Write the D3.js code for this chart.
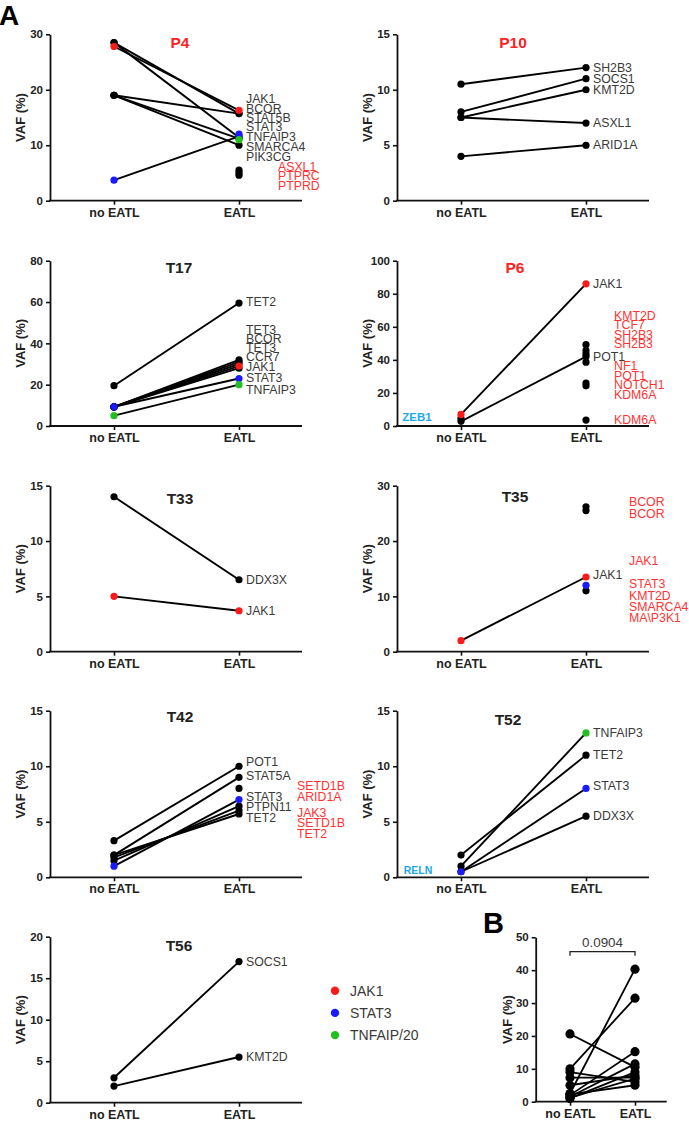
<!DOCTYPE html>
<html><head><meta charset="utf-8">
<script src="https://cdn.jsdelivr.net/npm/d3@7"></script>
<style>body{margin:0;background:#fff}svg{display:block}</style>
</head><body>
<svg id="c" width="689" height="1122"></svg>
<script>
// ---------------- DATA ----------------
const categories = ["no EATL", "EATL"];
const legendKeys = ["J", "S", "T"];
const legendNames = ["JAK1", "STAT3", "TNFAIP/20"];
// pairs: [VAF no EATL, VAF EATL, class no EATL, class EATL]; J=JAK1, S=STAT3, T=TNFAIP3, o=other
const P4_ticks = [0, 10, 20, 30];
const P4_pairs = [[28.5,15.7,"o","o"],[28.5,11.4,"o","o"],[19,15.7,"o","o"],[19,11.2,"o","o"],[19,10,"o","o"],[27.8,16.3,"J","J"],[3.7,11.6,"S","S"]];
const P4_singles = [[5.5,"o"],[5,"o"],[4.6,"o"],[12,"S"],[11,"T"]];
const P4_genes = ["JAK1","BCOR","STAT5B","STAT3","TNFAIP3","SMARCA4","PIK3CG"];
const P4_geneY = [18.3,16.5,14.9,13.2,11.5,9.7,7.9];
const P4_red = ["ASXL1","PTPRC","PTPRD"];
const P4_redY = [6.1,4.4,2.7];

const P10_ticks = [0, 5, 10, 15];
const P10_pairs = [[10.5,12,"o","o"],[8,11,"o","o"],[7.5,10,"o","o"],[7.5,7,"o","o"],[4,5,"o","o"]];
const P10_genes = ["SH2B3","SOCS1","KMT2D","ASXL1","ARID1A"];
const P10_geneY = [12,11,10,7,5];

const T17_ticks = [0, 20, 40, 60, 80];
const T17_pairs = [[19.5,59.5,"o","o"],[9.3,32,"o","o"],[9.3,31,"o","o"],[9.3,30,"o","o"],[9.3,28,"o","o"],[9.3,29,"o","J"],[9.3,23,"S","S"],[5,20,"T","T"]];
const T17_genes = ["TET2","TET3","BCOR","TET3","CCR7","JAK1","STAT3","TNFAIP3"];
const T17_geneY = [59.8,46.5,42.1,37.6,33.2,28.7,23.2,17.3];

const P6_ticks = [0, 20, 40, 60, 80, 100];
const P6_pairs = [[2.8,42,"o","o"],[7,86,"J","J"]];
const P6_singles = [[49.2,"o"],[45.6,"o"],[43.6,"o"],[38.6,"o"],[26,"o"],[24.3,"o"],[3.6,"o"]];
const P6_singlesNo = [[4.6,"o"]];
const P6_genes = ["JAK1","POT1"];
const P6_geneY = [86,42];
const P6_red = ["KMT2D","TCF7","SH2B3","SH2B3","NF1","POT1","NOTCH1","KDM6A","KDM6A"];
const P6_redY = [66.6,61,55.2,49.6,36.2,30.4,24.8,18.8,3.6];
const P6_blue = ["ZEB1"];
const P6_blueY = [5.6];

const T33_ticks = [0, 5, 10, 15];
const T33_pairs = [[14,6.5,"o","o"],[5,3.7,"J","J"]];
const T33_genes = ["DDX3X","JAK1"];
const T33_geneY = [6.5,3.7];

const T35_ticks = [0, 10, 20, 30];
const T35_pairs = [[2,13.5,"J","J"]];
const T35_singles = [[26.2,"o"],[25.5,"o"],[11,"o"],[12,"S"]];
const T35_genes = ["JAK1"];
const T35_geneY = [13.9];
const T35_red = ["BCOR","BCOR","JAK1","STAT3","KMT2D","SMARCA4","MA\\P3K1"];
const T35_redY = [27.1,24.8,16.4,12.2,10.1,8.1,6.1];

const T42_ticks = [0, 5, 10, 15];
const T42_pairs = [[3.3,10,"o","o"],[2,9,"o","o"],[2,5.7,"o","o"],[1.8,6.0,"o","o"],[1.5,6.4,"o","o"],[1,7,"S","S"]];
const T42_singles = [[8,"o"]];
const T42_genes = ["POT1","STAT5A","STAT3","PTPN11","TET2"];
const T42_geneY = [10.4,9.1,7.2,6.3,5.3];
const T42_red = ["SETD1B","ARID1A","JAK3","SETD1B","TET2"];
const T42_redY = [8.2,7.2,5.8,4.9,3.9];

const T52_ticks = [0, 5, 10, 15];
const T52_pairs = [[2,11,"o","o"],[1,13,"o","T"],[0.5,5.5,"o","o"],[0.5,8,"S","S"]];
const T52_genes = ["TNFAIP3","TET2","STAT3","DDX3X"];
const T52_geneY = [13,11,8.2,5.5];
const T52_blue = ["RELN"];
const T52_blueY = [0.66];

const T56_ticks = [0, 5, 10, 15, 20];
const T56_pairs = [[3,17,"o","o"],[2,5.5,"o","o"]];
const T56_genes = ["SOCS1","KMT2D"];
const T56_geneY = [17,5.5];

const B_ticks = [0, 10, 20, 30, 40, 50];
const B_noEATL = [20.6, 10, 2.5, 9, 7.3, 5, 2, 1.5, 1, 1.2, 2.2];
const B_EATL   = [10.5, 31.5, 40.3, 6, 7.3, 8, 15.2, 11.5, 9, 7, 5];
const B_pValue = "0.0904";

// ---------------- STYLE / LAYOUT ----------------
const COLORS = {J:"#ff1a1a", S:"#1a1aff", T:"#20c020", o:"#000000"};
const GRAY = "#3a3a3a", RED = "#ff3333", BLUE = "#1ba9e8";
const FONT = "'Liberation Sans', Arial, Helvetica, sans-serif";
const svg = d3.select("#c");

const LEFT = 50, RIGHT = 397;
const ROWS = [[34.3,200.7],[260.7,426],[485.7,651.7],[710.7,877.3],[936.7,1102.7]];

function panel(c) {
  const g = svg.append("g");
  const y = d3.scaleLinear().domain([0, c.max]).range([c.bottom, c.top]);
  const x = d3.scalePoint().domain(categories).range([c.axisX + (c.c1 ?? 64), c.axisX + (c.c2 ?? 189)]);
  const xlen = c.xlen ?? 252;
  const r = c.r ?? 3.6;

  // y axis
  const ya = g.append("g").attr("transform", `translate(${c.axisX},0)`)
    .call(d3.axisLeft(y).tickValues(c.ticks).tickSize(4).tickSizeOuter(0).tickPadding(3));
  ya.select(".domain").attr("stroke", "#111").attr("stroke-width", 1.8);
  ya.selectAll(".tick line").attr("stroke", "#111").attr("stroke-width", 1.6);
  ya.selectAll(".tick text").attr("font-family", FONT).attr("font-weight", "bold")
    .attr("font-size", 11.5).attr("fill", "#222");

  // x axis
  g.append("line").attr("x1", c.axisX - 0.9).attr("x2", c.axisX + xlen)
    .attr("y1", c.bottom).attr("y2", c.bottom).attr("stroke", "#111").attr("stroke-width", 1.8);
  const xa = g.append("g").attr("transform", `translate(0,${c.bottom})`)
    .call(d3.axisBottom(x).tickSize(4).tickSizeOuter(0).tickPadding(3));
  xa.select(".domain").remove();
  xa.selectAll(".tick line").attr("stroke", "#111").attr("stroke-width", 1.6);
  xa.selectAll(".tick text").attr("font-family", FONT).attr("font-weight", "bold")
    .attr("font-size", 12.5).attr("fill", "#222");

  // y title
  g.append("text").attr("transform", `translate(${c.axisX - (c.ytDx ?? 30)},${(c.top + c.bottom) / 2}) rotate(-90)`)
    .attr("text-anchor", "middle").attr("dominant-baseline", "central")
    .attr("font-family", FONT).attr("font-weight", "bold").attr("font-size", 13).attr("fill", "#222")
    .text("VAF (%)");

  // title
  if (c.title) {
    g.append("text").attr("x", c.axisX + c.titleDx).attr("y", c.top + c.titleDy)
      .attr("text-anchor", "middle").attr("dominant-baseline", "central")
      .attr("font-family", FONT).attr("font-weight", "bold").attr("font-size", 15.5)
      .attr("fill", c.titleColor).text(c.title);
  }

  // lines
  g.append("g").selectAll("line").data(c.pairs).join("line")
    .attr("x1", x(categories[0])).attr("x2", x(categories[1]))
    .attr("y1", d => y(d[0])).attr("y2", d => y(d[1]))
    .attr("stroke", "#000").attr("stroke-width", c.lw ?? 1.9);

  // dots
  const dots = [];
  c.pairs.forEach(d => { dots.push([0, d[0], d[2]]); dots.push([1, d[1], d[3]]); });
  (c.singles || []).forEach(d => dots.push([1, d[0], d[1]]));
  (c.singlesNo || []).forEach(d => dots.push([0, d[0], d[1]]));
  dots.sort((a, b) => (a[2] === "o" ? 0 : 1) - (b[2] === "o" ? 0 : 1));
  g.append("g").selectAll("circle").data(dots).join("circle")
    .attr("cx", d => x(categories[d[0]])).attr("cy", d => y(d[1]))
    .attr("r", r).attr("fill", d => COLORS[d[2]]);

  // gene labels
  const lx = x(categories[1]) + 7;
  (c.genes || []).forEach((t, i) => {
    g.append("text").attr("x", lx).attr("y", y(c.geneY[i])).attr("dominant-baseline", "central")
      .attr("font-family", FONT).attr("font-size", 12.3).attr("fill", GRAY).text(t);
  });
  (c.red || []).forEach((t, i) => {
    g.append("text").attr("x", c.axisX + c.redDx).attr("y", y(c.redY[i])).attr("dominant-baseline", "central")
      .attr("font-family", FONT).attr("font-size", 12.3).attr("fill", RED).text(t);
  });
  (c.blue || []).forEach((t, i) => {
    g.append("text").attr("x", c.axisX + c.blueDx).attr("y", y(c.blueY[i])).attr("dominant-baseline", "central")
      .attr("text-anchor", "middle")
      .attr("font-family", FONT).attr("font-weight", "bold").attr("font-size", c.blueSize).attr("fill", BLUE).text(t);
  });
  return {x, y, g};
}

panel({axisX: LEFT, top: ROWS[0][0], bottom: ROWS[0][1], max: 30, ticks: P4_ticks, title: "P4", titleColor: "#ff2222",
  titleDx: 130, titleDy: 8, pairs: P4_pairs, singles: P4_singles, genes: P4_genes, geneY: P4_geneY,
  red: P4_red, redY: P4_redY, redDx: 228});
panel({axisX: RIGHT, top: ROWS[0][0], bottom: ROWS[0][1], max: 15, ticks: P10_ticks, title: "P10", titleColor: "#ff2222",
  titleDx: 116, titleDy: 8.5, pairs: P10_pairs, genes: P10_genes, geneY: P10_geneY});
panel({axisX: LEFT, top: ROWS[1][0], bottom: ROWS[1][1], max: 80, ticks: T17_ticks, title: "T17", titleColor: "#222",
  titleDx: 129, titleDy: 6.5, pairs: T17_pairs, genes: T17_genes, geneY: T17_geneY});
panel({axisX: RIGHT, top: ROWS[1][0], bottom: ROWS[1][1], max: 100, ticks: P6_ticks, title: "P6", titleColor: "#ff2222",
  titleDx: 118, titleDy: 6.5, pairs: P6_pairs, singles: P6_singles, singlesNo: P6_singlesNo, genes: P6_genes, geneY: P6_geneY,
  red: P6_red, redY: P6_redY, redDx: 217, blue: P6_blue, blueY: P6_blueY, blueDx: 20, blueSize: 11.5});
panel({axisX: LEFT, top: ROWS[2][0], bottom: ROWS[2][1], max: 15, ticks: T33_ticks, title: "T33", titleColor: "#222",
  titleDx: 130, titleDy: 12.3, pairs: T33_pairs, genes: T33_genes, geneY: T33_geneY});
panel({axisX: RIGHT, top: ROWS[2][0], bottom: ROWS[2][1], max: 30, ticks: T35_ticks, title: "T35", titleColor: "#222",
  titleDx: 118, titleDy: 11, pairs: T35_pairs, singles: T35_singles, genes: T35_genes, geneY: T35_geneY,
  red: T35_red, redY: T35_redY, redDx: 232});
panel({axisX: LEFT, top: ROWS[3][0], bottom: ROWS[3][1], max: 15, ticks: T42_ticks, title: "T42", titleColor: "#222",
  titleDx: 130, titleDy: 6, pairs: T42_pairs, singles: T42_singles, genes: T42_genes, geneY: T42_geneY,
  red: T42_red, redY: T42_redY, redDx: 247});
panel({axisX: RIGHT, top: ROWS[3][0], bottom: ROWS[3][1], max: 15, ticks: T52_ticks, title: "T52", titleColor: "#222",
  titleDx: 111, titleDy: 8.3, pairs: T52_pairs, genes: T52_genes, geneY: T52_geneY,
  blue: T52_blue, blueY: T52_blueY, blueDx: 21, blueSize: 10.5});
panel({axisX: LEFT, top: ROWS[4][0], bottom: ROWS[4][1], max: 20, ticks: T56_ticks, title: "T56", titleColor: "#222",
  titleDx: 129, titleDy: 8.3, pairs: T56_pairs, genes: T56_genes, geneY: T56_geneY});

// Panel B
const Bpairs = B_noEATL.map((v, i) => [v, B_EATL[i], "o", "o"]);
const pb = panel({axisX: 535.7, top: 937.3, bottom: 1101.7, max: 50, ticks: B_ticks, c1: 34.3, c2: 99.3, xlen: 131,
  ytDx: 28, pairs: Bpairs, r: 4.6, lw: 1.8});
// significance bracket
const bx0 = pb.x(categories[0]), bx1 = pb.x(categories[1]), by = 951.7;
svg.append("path").attr("d", `M${bx0},${by + 4}V${by}H${bx1}V${by + 4}`)
  .attr("fill", "none").attr("stroke", "#222").attr("stroke-width", 1.3);
svg.append("text").attr("x", (bx0 + bx1) / 2).attr("y", by - 5).attr("text-anchor", "middle")
  .attr("font-family", FONT).attr("font-size", 13.4).attr("fill", GRAY).text(B_pValue);

// Legend
legendKeys.forEach((k, i) => {
  svg.append("circle").attr("cx", 335).attr("cy", 990.7 + i * 22.2).attr("r", 4.2).attr("fill", COLORS[k]);
  svg.append("text").attr("x", 350).attr("y", 990.7 + i * 22.2).attr("dominant-baseline", "central")
    .attr("font-family", FONT).attr("font-size", 14).attr("fill", GRAY).text(legendNames[i]);
});

// Panel letters
svg.append("text").attr("x", -1).attr("y", 25).attr("font-family", FONT).attr("font-weight", "bold")
  .attr("font-size", 28).attr("fill", "#000").text("A");
svg.append("text").attr("x", 483).attr("y", 933).attr("font-family", FONT).attr("font-weight", "bold")
  .attr("font-size", 29).attr("fill", "#000").text("B");
</script>
</body></html>
